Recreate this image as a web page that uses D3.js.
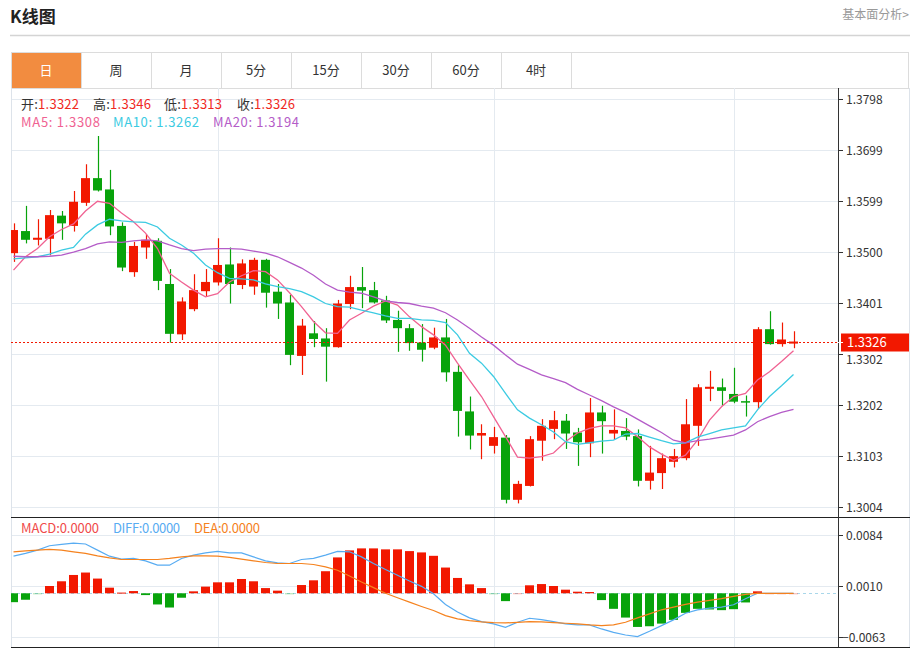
<!DOCTYPE html>
<html><head><meta charset="utf-8">
<script src="https://cdn.jsdelivr.net/npm/d3@7/dist/d3.min.js"></script>
<style>html,body{margin:0;padding:0;background:#fff;}svg{display:block;font-family:"Microsoft YaHei","Noto Sans CJK SC","Noto Sans",sans-serif;}</style>
</head><body><svg id="c" width="916" height="648"></svg>
<script>
// ---------- data ----------
const tabs = ["日","周","月","5分","15分","30分","60分","4时"];
const priceTicks = [1.3004,1.3103,1.3202,1.3302,1.3401,1.3500,1.3599,1.3699,1.3798];
const macdTicks = [-0.0063,0.0010,0.0084];
const gridIdx = [17,40,60];

const openP  = [1.3498,1.3541,1.3524,1.3526,1.3571,1.3551,1.3596,1.3644,1.3622,1.3551,1.3461,1.3509,1.3522,1.3438,1.3340,1.3389,1.3424,1.3441,1.3476,1.3436,1.3433,1.3485,1.3423,1.3402,1.3298,1.3342,1.3332,1.3315,1.3399,1.3432,1.3426,1.3406,1.3368,1.3352,1.3324,1.3314,1.3334,1.3267,1.3190,1.3143,1.3123,1.3139,1.3018,1.3045,1.3133,1.3156,1.3172,1.3149,1.3128,1.3188,1.3147,1.3152,1.3142,1.3055,1.3070,1.3092,1.3099,1.3162,1.3234,1.3237,1.3224,1.3210,1.3208,1.3350,1.3321,1.3322];
const highP  = [1.3556,1.3590,1.3564,1.3582,1.3580,1.3619,1.3671,1.3726,1.3660,1.3558,1.3520,1.3535,1.3527,1.3467,1.3412,1.3457,1.3467,1.3527,1.3509,1.3486,1.3489,1.3487,1.3438,1.3417,1.3370,1.3366,1.3352,1.3407,1.3454,1.3471,1.3442,1.3415,1.3386,1.3360,1.3360,1.3353,1.3370,1.3280,1.3219,1.3165,1.3160,1.3144,1.3055,1.3142,1.3175,1.3191,1.3185,1.3158,1.3216,1.3201,1.3194,1.3177,1.3155,1.3123,1.3108,1.3117,1.3214,1.3243,1.3269,1.3254,1.3275,1.3221,1.3354,1.3385,1.3363,1.3346];
const lowP   = [1.3481,1.3517,1.3513,1.3494,1.3524,1.3540,1.3590,1.3618,1.3533,1.3463,1.3452,1.3487,1.3426,1.3324,1.3329,1.3385,1.3413,1.3435,1.3400,1.3428,1.3417,1.3392,1.3370,1.3280,1.3261,1.3315,1.3248,1.3314,1.3389,1.3391,1.3400,1.3362,1.3306,1.3308,1.3287,1.3311,1.3248,1.3141,1.3116,1.3097,1.3108,1.3011,1.3011,1.3044,1.3094,1.3136,1.3117,1.3084,1.3101,1.3108,1.3136,1.3134,1.3044,1.3038,1.3039,1.3081,1.3095,1.3123,1.3210,1.3201,1.3206,1.3180,1.3195,1.3320,1.3316,1.3313];
const closeP = [1.3543,1.3524,1.3528,1.3572,1.3556,1.3598,1.3644,1.3620,1.3550,1.3470,1.3512,1.3524,1.3444,1.3341,1.3404,1.3426,1.3442,1.3475,1.3438,1.3478,1.3485,1.3421,1.3400,1.3300,1.3357,1.3331,1.3316,1.3400,1.3432,1.3425,1.3402,1.3367,1.3352,1.3323,1.3310,1.3334,1.3266,1.3191,1.3143,1.3148,1.3140,1.3018,1.3049,1.3136,1.3162,1.3173,1.3147,1.3130,1.3188,1.3171,1.3154,1.3141,1.3055,1.3071,1.3099,1.3103,1.3165,1.3237,1.3238,1.3230,1.3209,1.3208,1.3350,1.3321,1.3330,1.3326];

const ma5  = [1.3465,1.3491,1.3507,1.3530,1.3544,1.3555,1.3580,1.3599,1.3595,1.3576,1.3559,1.3537,1.3507,1.3459,1.3442,1.3426,1.3413,1.3419,1.3442,1.3454,1.3464,1.3462,1.3446,1.3421,1.3394,1.3365,1.3343,1.3342,1.3368,1.3381,1.3395,1.3405,1.3397,1.3374,1.3355,1.3339,1.3319,1.3284,1.3251,1.3219,1.3180,1.3141,1.3101,1.3099,1.3102,1.3109,1.3131,1.3148,1.3157,1.3162,1.3162,1.3158,1.3141,1.3121,1.3107,1.3095,1.3105,1.3134,1.3173,1.3199,1.3219,1.3225,1.3251,1.3267,1.3287,1.3308];
const ma10 = [1.3487,1.3489,1.3491,1.3496,1.3504,1.3509,1.3535,1.3553,1.3564,1.3561,1.3559,1.3558,1.3549,1.3527,1.3514,1.3498,1.3475,1.3460,1.3449,1.3448,1.3446,1.3438,1.3433,1.3429,1.3423,1.3413,1.3400,1.3394,1.3393,1.3387,1.3382,1.3376,1.3371,1.3371,1.3368,1.3367,1.3363,1.3339,1.3303,1.3284,1.3258,1.3225,1.3193,1.3177,1.3164,1.3150,1.3131,1.3126,1.3129,1.3132,1.3134,1.3146,1.3147,1.3140,1.3133,1.3127,1.3129,1.3140,1.3147,1.3154,1.3158,1.3162,1.3193,1.3219,1.3240,1.3262];
const ma20 = [1.3492,1.3491,1.3491,1.3492,1.3494,1.3500,1.3507,1.3516,1.3520,1.3519,1.3522,1.3524,1.3522,1.3514,1.3507,1.3503,1.3506,1.3507,1.3507,1.3506,1.3502,1.3498,1.3491,1.3480,1.3469,1.3455,1.3438,1.3426,1.3422,1.3420,1.3413,1.3405,1.3402,1.3400,1.3395,1.3391,1.3382,1.3368,1.3352,1.3335,1.3319,1.3300,1.3282,1.3272,1.3261,1.3254,1.3246,1.3233,1.3222,1.3211,1.3199,1.3188,1.3175,1.3162,1.3149,1.3134,1.3129,1.3133,1.3136,1.3140,1.3144,1.3154,1.3170,1.3180,1.3188,1.3194];

const macdHist = [-0.00128,-0.00093,-0.00005,0.00105,0.00173,0.00264,0.00299,0.00212,0.00081,0.00010,0.00032,-0.00026,-0.00161,-0.00205,-0.00064,0.00028,0.00096,0.00158,0.00158,0.00206,0.00173,0.00075,0.00038,-0.00003,0.00119,0.00187,0.00318,0.00517,0.00618,0.00647,0.00647,0.00633,0.00633,0.00608,0.00589,0.00540,0.00371,0.00221,0.00129,0.00075,-0.00002,-0.00113,0.00001,0.00115,0.00133,0.00105,0.00052,0.00023,0.00018,-0.00098,-0.00224,-0.00350,-0.00485,-0.00475,-0.00437,-0.00383,-0.00282,-0.00224,-0.00233,-0.00243,-0.00229,-0.00132,0.00028,0,0,0];
const diffV = [0.00535,0.00575,0.00622,0.00685,0.00705,0.00724,0.00710,0.00622,0.00535,0.00492,0.00502,0.00467,0.00405,0.00405,0.00502,0.00550,0.00583,0.00603,0.00583,0.00583,0.00525,0.00467,0.00438,0.00429,0.00487,0.00502,0.00550,0.00603,0.00598,0.00525,0.00429,0.00342,0.00260,0.00177,0.00100,-0.00006,-0.00161,-0.00270,-0.00354,-0.00408,-0.00441,-0.00490,-0.00418,-0.00360,-0.00379,-0.00408,-0.00441,-0.00456,-0.00456,-0.00514,-0.00563,-0.00601,-0.00625,-0.00548,-0.00466,-0.00383,-0.00287,-0.00238,-0.00215,-0.00200,-0.00165,-0.00078,0,0,0,0];
const deaV  = [0.00598,0.00612,0.00622,0.00633,0.00622,0.00598,0.00575,0.00540,0.00511,0.00487,0.00487,0.00487,0.00487,0.00502,0.00525,0.00540,0.00540,0.00535,0.00517,0.00492,0.00467,0.00444,0.00429,0.00429,0.00429,0.00415,0.00380,0.00332,0.00250,0.00163,0.00081,0,-0.00064,-0.00128,-0.00190,-0.00248,-0.00321,-0.00369,-0.00393,-0.00412,-0.00422,-0.00427,-0.00418,-0.00408,-0.00412,-0.00422,-0.00432,-0.00441,-0.00456,-0.00466,-0.00456,-0.00418,-0.00354,-0.00296,-0.00238,-0.00200,-0.00161,-0.00128,-0.00103,-0.00078,-0.00045,-0.00016,0,0,0,0];

// ---------- styles ----------
const RED="#f21800", GREEN="#08a30b", GRID="#e4eaf0";
const C_MA5="#f06292", C_MA10="#3ccbe2", C_MA20="#b45cc8";
const C_DIFF="#58acf2", C_DEA="#f5821e", C_MACD="#f04a4a";

const N = closeP.length;
const PL=11, PR=838, OR=909, TABT=52, TABB=88, MB=517, BB=647;
const svg = d3.select("#c");
const f4 = d3.format(".4f");

// header
svg.append("text").attr("x",10).attr("y",23).attr("font-size",17).attr("font-weight","bold").attr("fill","#222").text("K线图");
svg.append("text").attr("x",909).attr("y",19).attr("text-anchor","end").attr("font-size",12).attr("fill","#999").text("基本面分析>");
svg.append("line").attr("x1",10).attr("x2",910).attr("y1",35.5).attr("y2",35.5).attr("stroke","#d4d4d4").attr("stroke-width",1.5);

// tabs
const tabX = d3.scaleBand().domain(tabs).range([PL, PL+70*tabs.length]);
svg.append("rect").attr("x",PL+0.5).attr("y",TABT+0.5).attr("width",OR-PL-1).attr("height",TABB-TABT).attr("fill","#fff").attr("stroke","#dcdcdc");
const tg = svg.selectAll("g.tab").data(tabs).enter().append("g");
tg.append("rect").attr("x",d=>tabX(d)+0.5).attr("y",TABT+0.5).attr("width",tabX.bandwidth()).attr("height",TABB-TABT)
  .attr("fill",(d,i)=>i===0?"#f28c40":"#fff").attr("stroke","#dcdcdc");
tg.append("text").attr("x",d=>tabX(d)+tabX.bandwidth()/2).attr("y",75).attr("text-anchor","middle").attr("font-size",13)
  .attr("fill",(d,i)=>i===0?"#fff":"#333").text(d=>d);

// scales
const x = d3.scaleLinear().domain([0, N-1]).range([13.5, 13.5+12*(N-1)]);
const y = d3.scaleLinear().domain([1.3004, 1.3798]).range([507, 99]);
const ym = d3.scaleLinear().domain([-0.0063, 0.0084]).range([637, 535]);

// clip
const defs = svg.append("defs");
defs.append("clipPath").attr("id","mainClip").append("rect").attr("x",PL).attr("y",TABB).attr("width",PR-PL).attr("height",MB-TABB);
defs.append("clipPath").attr("id","macdClip").append("rect").attr("x",PL).attr("y",MB).attr("width",PR-PL).attr("height",BB-MB);

// grid
const grid = svg.append("g");
grid.selectAll("line.h").data(priceTicks).enter().append("line")
  .attr("x1",PL).attr("x2",PR).attr("y1",d=>Math.round(y(d))+0.5).attr("y2",d=>Math.round(y(d))+0.5).attr("stroke",GRID);
grid.selectAll("line.hm").data(macdTicks).enter().append("line")
  .attr("x1",PL).attr("x2",PR).attr("y1",d=>Math.round(ym(d))+0.5).attr("y2",d=>Math.round(ym(d))+0.5).attr("stroke",GRID);
grid.selectAll("line.v").data(gridIdx).enter().append("line")
  .attr("x1",d=>Math.round(x(d))+0.5).attr("x2",d=>Math.round(x(d))+0.5).attr("y1",TABB).attr("y2",BB).attr("stroke",GRID);
svg.append("line").attr("x1",PL+0.5).attr("x2",PL+0.5).attr("y1",TABB).attr("y2",BB).attr("stroke","#dde3ea");
svg.append("line").attr("x1",OR+0.5).attr("x2",OR+0.5).attr("y1",TABB).attr("y2",BB).attr("stroke","#dde3ea");

// candles
const cg = svg.append("g").attr("clip-path","url(#mainClip)");
const idx = d3.range(N);
const col = i => closeP[i] >= openP[i] ? RED : GREEN;
cg.selectAll("line.w").data(idx).enter().append("line")
  .attr("x1",i=>Math.round(x(i))+0.5).attr("x2",i=>Math.round(x(i))+0.5)
  .attr("y1",i=>y(highP[i])).attr("y2",i=>y(lowP[i])).attr("stroke",col).attr("stroke-width",1.2);
cg.selectAll("rect.b").data(idx).enter().append("rect")
  .attr("x",i=>x(i)-4.5).attr("width",9)
  .attr("y",i=>y(Math.max(openP[i],closeP[i])))
  .attr("height",i=>Math.max(1.5, Math.abs(y(openP[i])-y(closeP[i]))))
  .attr("fill",col);

// MA lines
const line = arr => d3.line().x((d,i)=>x(i)).y(d=>y(d))(arr);
[[ma5,C_MA5],[ma10,C_MA10],[ma20,C_MA20]].forEach(([a,c])=>{
  cg.append("path").attr("d",line(a)).attr("fill","none").attr("stroke",c).attr("stroke-width",1.3);
});

// last price dashed line
const lastY = Math.round(y(closeP[N-1]))+0.5;
svg.append("line").attr("x1",PL).attr("x2",PR).attr("y1",lastY).attr("y2",lastY)
  .attr("stroke",RED).attr("stroke-dasharray","2,2").attr("stroke-width",1);

// MACD
const mg = svg.append("g").attr("clip-path","url(#macdClip)");
const y0 = ym(0);
mg.append("line").attr("x1",PL).attr("x2",PR).attr("y1",Math.round(y0)+0.5).attr("y2",Math.round(y0)+0.5)
  .attr("stroke","#a9d7ea").attr("stroke-dasharray","3,3");
mg.selectAll("rect.m").data(idx).enter().append("rect")
  .attr("x",i=>x(i)-4.5).attr("width",9)
  .attr("y",i=>Math.min(y0, ym(macdHist[i])))
  .attr("height",i=>Math.max(1, Math.abs(ym(macdHist[i])-y0)))
  .attr("fill",i=>macdHist[i]>=0?RED:GREEN)
  .attr("opacity",i=>Math.abs(macdHist[i])<0.00006?0.35:1);
const lineM = arr => d3.line().x((d,i)=>x(i)).y(d=>ym(d))(arr);
mg.append("path").attr("d",lineM(diffV)).attr("fill","none").attr("stroke",C_DIFF).attr("stroke-width",1.2);
mg.append("path").attr("d",lineM(deaV)).attr("fill","none").attr("stroke",C_DEA).attr("stroke-width",1.2);

// separators
svg.append("line").attr("x1",PL).attr("x2",OR+1).attr("y1",MB+0.5).attr("y2",MB+0.5).attr("stroke","#222");
svg.append("line").attr("x1",PL).attr("x2",OR+1).attr("y1",BB+0.5).attr("y2",BB+0.5).attr("stroke","#222");
svg.append("line").attr("x1",PR+0.5).attr("x2",PR+0.5).attr("y1",TABB).attr("y2",BB).attr("stroke","#333");

// right axes
const ax = svg.append("g").attr("font-size",12).attr("fill","#333");
const lastYv = y(closeP[N-1]);
priceTicks.forEach(v=>{
  const yy = Math.round(y(v))+0.5;
  ax.append("line").attr("x1",PR).attr("x2",PR+5).attr("y1",yy).attr("y2",yy).attr("stroke","#333");
  const near = Math.abs(yy-lastYv) < 16;
  ax.append("text").attr("x",846).attr("y",near ? yy+5 : yy).attr("dy","0.36em").text(f4(v));
});
macdTicks.forEach(v=>{
  const yy = Math.round(ym(v))+0.5;
  ax.append("line").attr("x1",PR).attr("x2",PR+5).attr("y1",yy).attr("y2",yy).attr("stroke","#333");
  ax.append("text").attr("x",v<0?842:846).attr("y",yy).attr("dy","0.36em").text(f4(v));
});
// last price tag
svg.append("rect").attr("x",841).attr("y",lastY-9).attr("width",68).attr("height",18).attr("fill",RED);
svg.append("line").attr("x1",PR).attr("x2",PR+5).attr("y1",lastY).attr("y2",lastY).attr("stroke","#fff");
svg.append("text").attr("x",847).attr("y",lastY).attr("dy","0.36em").attr("font-size",13).attr("fill","#fff").text(f4(closeP[N-1]));

// legends
const L = N-1;
const leg1 = [["开:",openP[L],21],["高:",highP[L],93],["低:",lowP[L],164],["收:",closeP[L],237]];
leg1.forEach(([lab,v,xx])=>{
  const t = svg.append("text").attr("x",xx).attr("y",109).attr("font-size",13)
    .attr("textLength",58).attr("lengthAdjust","spacing");
  t.append("tspan").attr("fill","#333").text(lab);
  t.append("tspan").attr("fill","#f0281e").text(f4(v));
});
const leg2 = [["MA5: ",ma5[L],21,C_MA5,79],["MA10: ",ma10[L],113,C_MA10,86],["MA20: ",ma20[L],213,C_MA20,86]];
leg2.forEach(([lab,v,xx,c,w])=>{
  svg.append("text").attr("x",xx).attr("y",127).attr("font-size",13).attr("fill",c)
    .attr("textLength",w).attr("lengthAdjust","spacing").text(lab+f4(v));
});
const leg3 = [["MACD:",macdHist[L],21,C_MACD,78],["DIFF:",diffV[L],113,C_DIFF,67],["DEA:",deaV[L],194,C_DEA,66]];
leg3.forEach(([lab,v,xx,c,w])=>{
  svg.append("text").attr("x",xx).attr("y",533).attr("font-size",13).attr("fill",c)
    .attr("textLength",w).attr("lengthAdjust","spacing").text(lab+f4(Math.abs(v)));
});
</script></body></html>
